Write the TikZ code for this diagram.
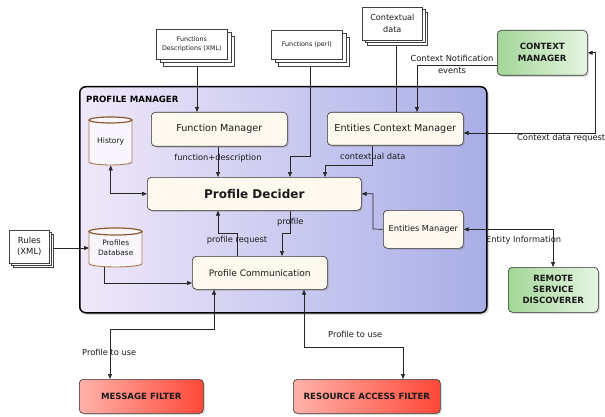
\documentclass[tikz,border=0pt]{standalone}
\usepackage{fontspec}
\setmainfont{DejaVu Sans}
\usetikzlibrary{arrows.meta,shadows}
\definecolor{boxfill}{HTML}{FDF9EF}
\definecolor{pmleft}{HTML}{F0E8FA}
\definecolor{pmright}{HTML}{A8AEE6}
\definecolor{grleft}{HTML}{A3D698}
\definecolor{grright}{HTML}{E6F5E2}
\definecolor{rdleft}{HTML}{FFB2AA}
\definecolor{rdright}{HTML}{FF4838}
\definecolor{cylline}{HTML}{A87A4E}
\definecolor{cyltop}{HTML}{8B5A2B}
\definecolor{cylfill}{HTML}{F8F6FC}
\definecolor{txt}{HTML}{1A1A1A}
\newcommand\fsz[2]{\fontsize{#1}{#2}\selectfont}
\pgfdeclarelayer{background}
\pgfdeclarelayer{edges}
\pgfsetlayers{background,edges,main}
\tikzset{
  box/.style={draw=black!80, fill=boxfill, rounded corners=4pt, line width=0.6pt,
    inner sep=0pt, anchor=north west, align=center, text=txt,
    drop shadow={shadow xshift=1.5pt, shadow yshift=-1.5pt, opacity=0.3}},
  greenbox/.style={box, fill=none, left color=grleft, right color=grright},
  redbox/.style={box, fill=none, left color=rdleft, right color=rdright},
  docpage/.style={draw=black!75, fill=white, line width=0.6pt, inner sep=0pt,
    anchor=north west, align=center, text=txt},
  cylrect/.style={inner sep=0pt, anchor=north west, align=center, text=txt},
  cylbody/.style={draw=cylline, fill=cylfill, line width=0.9pt},
  cylcap/.style={draw=cyltop, fill=cylfill, line width=1.2pt},
  lbl/.style={inner sep=0pt, text=txt, font=\fsz{8.3}{12}},
  conn/.style={draw=black!85, line width=0.7pt},
  arr/.style={conn, -{Triangle[length=5pt,width=4pt]}},
  darr/.style={conn, {Triangle[length=5pt,width=4pt]}-{Triangle[length=5pt,width=4pt]}}
}
\begin{document}
\begin{tikzpicture}[x=1pt,y=-1pt]
\useasboundingbox (0,0) rectangle (605,417);

% big container
\begin{pgfonlayer}{background}
\node[draw=black, line width=1.5pt, rounded corners=6pt, left color=pmleft, right color=pmright,
  minimum width=407pt, minimum height=226pt, anchor=north west, inner sep=0pt,
  drop shadow={shadow xshift=2pt, shadow yshift=-2pt, opacity=0.3}] (PM) at (79,86) {};
\end{pgfonlayer}
\node[inner sep=0pt, anchor=west, font=\bfseries\fsz{8.6}{10}] (PMt) at (86,99) {PROFILE MANAGER};

% boxes
\node[box, minimum width=136pt, minimum height=34pt, font=\fsz{9.6}{11}] (FM) at (151,112) {Function Manager};
\node[box, minimum width=136pt, minimum height=33pt, font=\fsz{9.6}{11}] (ECM) at (327,112) {Entities Context Manager};
\node[box, minimum width=214pt, minimum height=33pt, font=\bfseries\fsz{12}{14}] (PD) at (147,177) {Profile Decider};
\node[box, minimum width=135pt, minimum height=33pt, font=\fsz{9}{11}] (PC) at (192,256) {Profile Communication};
\node[box, minimum width=80pt, minimum height=38pt, font=\fsz{8.2}{10}] (EM) at (383,210) {Entities Manager};
\node[greenbox, minimum width=90pt, minimum height=45pt, font=\bfseries\fsz{8.6}{12}] (CM) at (497,30) {CONTEXT\\MANAGER};
\node[greenbox, minimum width=90pt, minimum height=45pt, font=\bfseries\fsz{8.6}{11}] (RSD) at (508,267) {REMOTE\\SERVICE\\DISCOVERER};
\node[redbox, minimum width=124pt, minimum height=34pt, font=\bfseries\fsz{8.6}{10}] (MF) at (79,379) {MESSAGE FILTER};
\node[redbox, minimum width=147pt, minimum height=34pt, font=\bfseries\fsz{8.6}{10}] (RAF) at (293,379) {RESOURCE ACCESS FILTER};

% documents
\node[docpage, double copy shadow={shadow xshift=3.5pt, shadow yshift=-3.5pt},
  minimum width=71pt, minimum height=30pt, font=\fsz{6.3}{9}] (FD) at (156,29) {Functions\\Descriptions (XML)};
\node[docpage, double copy shadow={shadow xshift=3.5pt, shadow yshift=-3.5pt},
  minimum width=71pt, minimum height=29pt, font=\fsz{6.4}{9}] (FP) at (271,30) {Functions (perl)};
\node[docpage, double copy shadow={shadow xshift=2.5pt, shadow yshift=-2.5pt},
  minimum width=60pt, minimum height=33pt, font=\fsz{8.1}{12}] (CD) at (362,7) {Contextual\\data};
\node[docpage, double copy shadow={shadow xshift=2pt, shadow yshift=-2pt},
  minimum width=40pt, minimum height=33pt, font=\fsz{8.5}{11}] (Rules) at (9,230) {Rules\\(XML)};

% cylinders
\path[cylbody] ([yshift=-3pt]89,117) -- ([yshift=3pt]89,165)
  arc[start angle=180, end angle=360, x radius=21.5pt, y radius=3pt] -- ([yshift=-3pt]132,117) -- cycle;
\path[cylcap] ([yshift=-3pt]110.5,117) ellipse[x radius=21.5pt, y radius=3pt];
\node[cylrect, minimum width=43pt, minimum height=48pt, font=\fsz{7.6}{9}] (Hist) at (89,117) {History};

\path[cylbody] ([yshift=-3.5pt]89,228) -- ([yshift=3.5pt]89,267)
  arc[start angle=180, end angle=360, x radius=26.5pt, y radius=3.5pt] -- ([yshift=-3.5pt]142,228) -- cycle;
\path[cylcap] ([yshift=-3.5pt]115.5,228) ellipse[x radius=26.5pt, y radius=3.5pt];
\node[cylrect, minimum width=53pt, minimum height=39pt, font=\fsz{7.4}{10}] (PDB) at (89,228) {Profiles\\Database};

% connectors
\begin{pgfonlayer}{edges}
\draw[arr] (FD.south -| 197,0) -- (FM.north -| 197,0);
\draw[arr] (FP.south -| 310,0) -- (310,156) -| (PD.north -| 290,0);
\draw[conn] (CD.south -| 396,0) -- (ECM.north -| 396,0);
\draw[arr] (CM.west |- 0,65) -| (ECM.north -| 417,0);
\draw[darr] (ECM.east |- 0,133) -- (595,133) |- (CM.east);
\draw[arr] (ECM.south -| 372,0) -- (372,165) -| (PD.north -| 325,0);
\draw[arr] (FM.south -| 218,0) -- (PD.north -| 218,0);
\draw[darr] (Hist.south) |- (PD.west);
\draw[arr] (EM.west) -- (373,229) |- (PD.east);
\draw[darr] (EM.east) -| (RSD.north -| 553,0);
\draw[arr] (PD.south -| 290,0) -- (290,233) -| (PC.north -| 282,0);
\draw[arr] (PC.north -| 237,0) -- (237,233) -| (PD.south -| 218,0);
\draw[arr] (PDB.south -| 104,0) |- (PC.west |- 0,283);
\draw[arr] (Rules.east |- 0,248) -- (PDB.west |- 0,248);
\draw[darr] (PC.south -| 214,0) -- (214,329) -| (MF.north -| 110,0);
\draw[darr] (PC.south -| 304,0) -- (304,347) -| (RAF.north -| 403,0);
\end{pgfonlayer}

% connector labels
\node[lbl, align=center] (L1) at (452,64) {Context Notification\\events};
\node[lbl, anchor=west] (L2) at (517,138) {Context data request};
\node[lbl, anchor=west] (L3) at (340,156) {contextual data};
\node[lbl] (L4) at (218,158) {function+description};
\node[lbl, anchor=west] (L5) at (486,240) {Entity Information};
\node[lbl, anchor=west] (L6) at (277,222) {profile};
\node[lbl] (L7) at (237,240) {profile request};
\node[lbl, anchor=west] (L8) at (82,352) {Profile to use};
\node[lbl, anchor=west] (L9) at (328,334) {Profile to use};
\end{tikzpicture}
\end{document}
